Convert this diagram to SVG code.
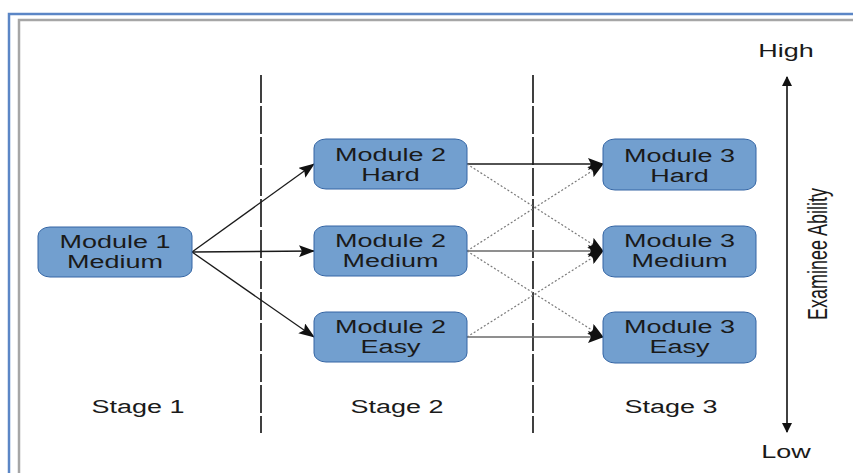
<svg xmlns="http://www.w3.org/2000/svg" width="853" height="473" viewBox="0 0 853 473">
  <defs>
    <marker id="arrow" markerUnits="userSpaceOnUse" markerWidth="16" markerHeight="12" refX="15" refY="6" orient="auto">
      <path d="M0,0 L16,6 L0,12 L3,6 Z" fill="#111"/>
    </marker>
    <marker id="arrowAxis" markerUnits="userSpaceOnUse" markerWidth="10" markerHeight="10" refX="9" refY="5" orient="auto-start-reverse">
      <path d="M0,0 L10,5 L0,10 Z" fill="#111"/>
    </marker>
    <style>
      .box { fill: #729fcf; stroke: #3465a4; stroke-width: 1; }
      .lbl { font-family: "Liberation Sans", Arial, sans-serif; font-size: 18px; fill: #1a1a1a; text-anchor: middle; }
      .solid { stroke: #1a1a1a; stroke-width: 1.3; fill: none; }
      .grey { stroke: #6a6a6a; stroke-width: 1.3; fill: none; }
      .dot { stroke: #7a7a7a; stroke-width: 1.2; fill: none; stroke-dasharray: 2 2; }
      .divider { stroke: #111; stroke-width: 1.6; stroke-dasharray: 28 3; }
    </style>
  </defs>

  <rect width="853" height="473" fill="#ffffff"/>

  <!-- outer frame -->
  <path d="M9,473 V14 H853" fill="none" stroke="#5b86c6" stroke-width="2.5"/>
  <path d="M19,473 V20 H853" fill="none" stroke="#a6a6a6" stroke-width="2.5"/>

  <!-- stage dividers -->
  <line class="divider" x1="261" y1="75" x2="261" y2="433"/>
  <line class="divider" x1="533" y1="75" x2="533" y2="433"/>

  <!-- connectors -->
  <g id="connectors">
    <line class="solid" x1="192" y1="252" x2="314" y2="164" marker-end="url(#arrow)"/>
    <line class="solid" x1="192" y1="252" x2="314" y2="251" marker-end="url(#arrow)"/>
    <line class="solid" x1="192" y1="252" x2="314" y2="337" marker-end="url(#arrow)"/>

    <line class="solid" x1="467" y1="164" x2="603" y2="164" marker-end="url(#arrow)"/>
    <line class="grey" x1="467" y1="251" x2="603" y2="251" marker-end="url(#arrow)"/>
    <line class="grey" x1="467" y1="337" x2="603" y2="337" marker-end="url(#arrow)"/>

    <line class="dot" x1="467" y1="164" x2="603" y2="251" marker-end="url(#arrow)"/>
    <line class="dot" x1="467" y1="251" x2="603" y2="164" marker-end="url(#arrow)"/>
    <line class="dot" x1="467" y1="251" x2="603" y2="337" marker-end="url(#arrow)"/>
    <line class="dot" x1="467" y1="337" x2="603" y2="251" marker-end="url(#arrow)"/>

    <!-- ability axis -->
    <line x1="787" y1="77" x2="787" y2="432" stroke="#111" stroke-width="1.6" marker-start="url(#arrowAxis)" marker-end="url(#arrowAxis)"/>
  </g>

  <!-- stage 1 -->
  <g id="m1-medium">
    <rect class="box" x="38" y="227" width="154" height="50" rx="12" ry="9"/>
    <text class="lbl" x="115" y="248" textLength="111" lengthAdjust="spacingAndGlyphs">Module 1</text>
    <text class="lbl" x="115" y="268" textLength="96" lengthAdjust="spacingAndGlyphs">Medium</text>
  </g>

  <!-- stage 2 -->
  <g id="m2-hard">
    <rect class="box" x="314" y="139" width="153" height="50" rx="12" ry="9"/>
    <text class="lbl" x="390.5" y="161" textLength="111" lengthAdjust="spacingAndGlyphs">Module 2</text>
    <text class="lbl" x="390.5" y="181" textLength="58.5" lengthAdjust="spacingAndGlyphs">Hard</text>
  </g>
  <g id="m2-medium">
    <rect class="box" x="314" y="226" width="153" height="50" rx="12" ry="9"/>
    <text class="lbl" x="390.5" y="247" textLength="111" lengthAdjust="spacingAndGlyphs">Module 2</text>
    <text class="lbl" x="390.5" y="267" textLength="96" lengthAdjust="spacingAndGlyphs">Medium</text>
  </g>
  <g id="m2-easy">
    <rect class="box" x="314" y="312" width="153" height="50" rx="12" ry="9"/>
    <text class="lbl" x="390.5" y="333" textLength="111" lengthAdjust="spacingAndGlyphs">Module 2</text>
    <text class="lbl" x="390.5" y="353" textLength="60" lengthAdjust="spacingAndGlyphs">Easy</text>
  </g>

  <!-- stage 3 -->
  <g id="m3-hard">
    <rect class="box" x="603" y="139" width="153" height="51" rx="12" ry="9"/>
    <text class="lbl" x="679.5" y="162" textLength="111" lengthAdjust="spacingAndGlyphs">Module 3</text>
    <text class="lbl" x="679.5" y="182" textLength="58.5" lengthAdjust="spacingAndGlyphs">Hard</text>
  </g>
  <g id="m3-medium">
    <rect class="box" x="603" y="226" width="153" height="51" rx="12" ry="9"/>
    <text class="lbl" x="679.5" y="247" textLength="111" lengthAdjust="spacingAndGlyphs">Module 3</text>
    <text class="lbl" x="679.5" y="267" textLength="96" lengthAdjust="spacingAndGlyphs">Medium</text>
  </g>
  <g id="m3-easy">
    <rect class="box" x="603" y="312" width="153" height="51" rx="12" ry="9"/>
    <text class="lbl" x="679.5" y="333" textLength="111" lengthAdjust="spacingAndGlyphs">Module 3</text>
    <text class="lbl" x="679.5" y="353" textLength="60" lengthAdjust="spacingAndGlyphs">Easy</text>
  </g>

  <!-- stage captions -->
  <g id="stage-labels">
    <text class="lbl" x="138" y="413" textLength="93" lengthAdjust="spacingAndGlyphs">Stage 1</text>
    <text class="lbl" x="397" y="413" textLength="93" lengthAdjust="spacingAndGlyphs">Stage 2</text>
    <text class="lbl" x="671" y="413" textLength="93" lengthAdjust="spacingAndGlyphs">Stage 3</text>
  </g>

  <!-- axis labels -->
  <g id="axis-labels">
    <text class="lbl" x="786" y="57" textLength="55.5" lengthAdjust="spacingAndGlyphs">High</text>
    <text class="lbl" x="786" y="458" textLength="49.5" lengthAdjust="spacingAndGlyphs">Low</text>
    <text class="lbl" transform="translate(827,254) scale(1.5,1) rotate(-90)" x="0" y="0">Examinee Ability</text>
  </g>
</svg>
